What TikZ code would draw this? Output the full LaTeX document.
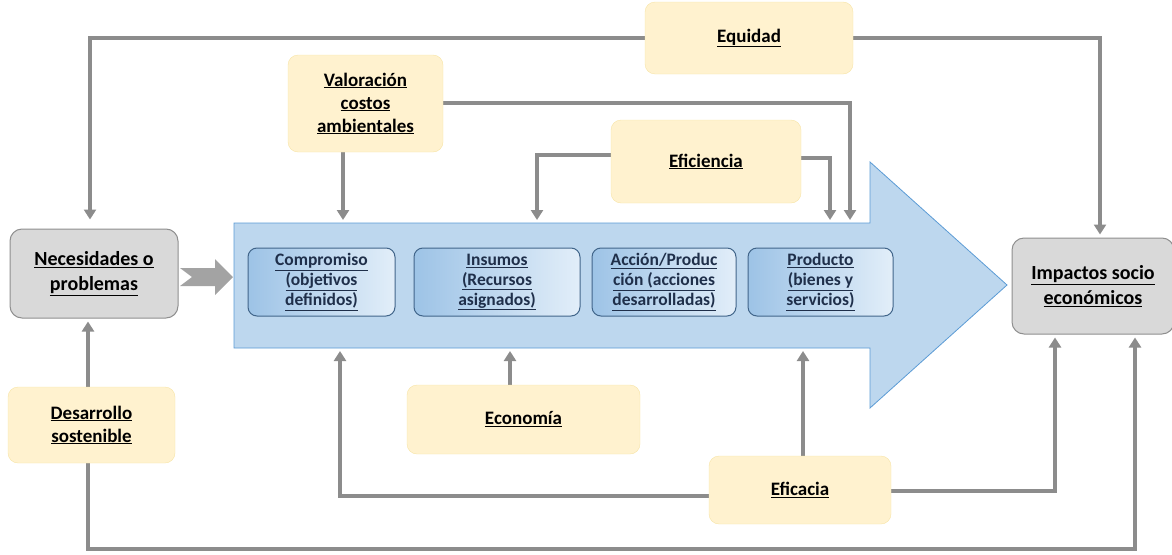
\documentclass[tikz,border=0pt]{standalone}
\usepackage{fontspec}
\setmainfont{Carlito}
\usetikzlibrary{positioning,arrows.meta}
\definecolor{linegray}{HTML}{8C8C8C}
\definecolor{cream}{HTML}{FFF2CF}
\definecolor{creamedge}{HTML}{F7E4A6}
\definecolor{boxgray}{HTML}{D9D9D9}
\definecolor{grayedge}{HTML}{8F8F8F}
\definecolor{flowblue}{HTML}{BDD7EE}
\definecolor{flowedge}{HTML}{5B9BD5}
\definecolor{stagedark}{HTML}{9DC3E6}
\definecolor{stagelight}{HTML}{E2EEF9}
\definecolor{stageedge}{HTML}{41658A}
\definecolor{stagetext}{HTML}{1F2F4A}
\newcommand{\ulin}[1]{\underline{#1}}

\begin{document}
\begin{tikzpicture}[x=1pt,y=-1pt,
  yellowbox/.style={draw=creamedge, fill=cream, rounded corners=10pt, align=center,
    font=\bfseries\fontsize{19}{23}\selectfont, inner sep=0pt},
  graybox/.style={draw=grayedge, fill=boxgray, line width=1pt, rounded corners=12pt,
    align=center, font=\bfseries\fontsize{20}{25}\selectfont, inner sep=0pt},
  stagebox/.style={draw=stageedge, line width=1pt, left color=stagedark, right color=stagelight,
    rounded corners=9pt, align=center, text=stagetext, minimum height=68pt,
    font=\bfseries\fontsize{17.5}{20}\selectfont, inner sep=0pt},
  link/.style={draw=linegray, line width=3.5pt, shorten >=3pt,
    -{Triangle[width=12pt,length=10pt]}},
  plain/.style={draw=linegray, line width=3.5pt}]
\useasboundingbox (0,0) rectangle (1172,554);

\fill[flowblue, draw=flowedge, line width=0.8pt] (234,223) -- (870,223) -- (870,162) -- (1007,285)
  -- (870,408) -- (870,348) -- (234,348) -- cycle;
\path (552,285.5) node[minimum width=636pt, minimum height=125pt, inner sep=0pt] (flow) {};

\node[stagebox, minimum width=147pt] (compromiso) at (321.5,282) {\ulin{Compromiso}\\\ulin{(objetivos}\\\ulin{definidos)}};
\node[stagebox, minimum width=166pt] (insumos) at (497,282) {\ulin{Insumos}\\\ulin{(Recursos}\\\ulin{asignados)}};
\node[stagebox, minimum width=144pt] (accion) at (664,282) {\ulin{Acción/Produc}\\\ulin{ción (acciones}\\\ulin{desarrolladas)}};
\node[stagebox, minimum width=145pt] (producto) at (820.5,282) {\ulin{Producto}\\\ulin{(bienes y}\\\ulin{servicios)}};

\node[graybox, minimum width=168pt, minimum height=89pt] (necesidades) at (94,273.5) {\ulin{Necesidades o}\\\ulin{problemas}};
\node[graybox, minimum width=162pt, minimum height=96pt] (impactos) at (1093,286) {\ulin{Impactos socio}\\\ulin{económicos}};

\fill[linegray!80] (180,268) -- (215,268) -- (215,259) -- (233,277) -- (215,295) -- (215,286)
  -- (180,286) -- (192,277) -- cycle;

\coordinate (equidadL) at (645,38);
\coordinate (equidadR) at (853,38);
\draw[link, shorten >=9pt] (equidadL) -| ([xshift=-4pt]necesidades.north);
\draw[link] (equidadR) -| ([xshift=7pt]impactos.north);
\draw[link] (443,103) -| (850,223);
\draw[link] (343,152) -- (343,223);
\draw[link] (636,155) -| (537,223);
\draw[link] (801,158) -| (830,223);
\draw[link] (510,385) -- (510,348);
\draw[link] (709,496) -| (340,348);
\draw[link] (803,456) -- (803,348);
\draw[link] (891,491) -| ([xshift=-38pt]impactos.south);
\draw[link] (88,387) -- ([xshift=-6pt]necesidades.south);
\draw[link] (88,463) |- (1135,549) -- ([xshift=42pt]impactos.south);

\node[yellowbox, minimum width=208pt, minimum height=72pt] (equidad) at (749,38) {\ulin{Equidad}};
\node[yellowbox, minimum width=155pt, minimum height=97pt] (valoracion) at (365.5,103.5) {\ulin{Valoración}\\\ulin{costos}\\\ulin{ambientales}};
\node[yellowbox, minimum width=190pt, minimum height=83pt] (eficiencia) at (706,161.5) {\ulin{Eficiencia}};
\node[yellowbox, minimum width=233pt, minimum height=69pt] (economia) at (523.5,419.5) {\ulin{Economía}};
\node[yellowbox, minimum width=167pt, minimum height=76pt] (desarrollo) at (91.5,425) {\ulin{Desarrollo}\\\ulin{sostenible}};
\node[yellowbox, minimum width=182pt, minimum height=68pt] (eficacia) at (800,490) {\ulin{Eficacia}};
\end{tikzpicture}
\end{document}
